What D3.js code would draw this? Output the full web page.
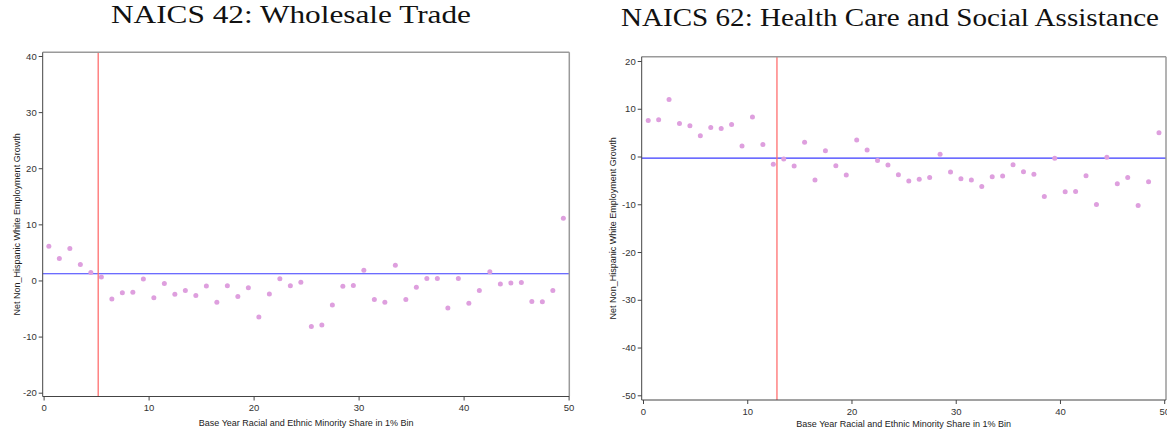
<!DOCTYPE html>
<html>
<head>
<meta charset="utf-8">
<script src="https://cdn.jsdelivr.net/npm/d3@7"></script>
<style>
  html, body { margin: 0; padding: 0; background: #fff; }
  svg { display: block; }
  .tick text { font-family: "Liberation Sans", Arial, sans-serif; font-size: 9.5px; fill: #333; }
</style>
</head>
<body>
<svg id="chart" width="1167" height="433"></svg>
<script>
// Bin midpoints: base-year minority share, 1% bins
const bins = [
  0.5, 1.5, 2.5, 3.5, 4.5, 5.5, 6.5, 7.5, 8.5, 9.5,
  10.5, 11.5, 12.5, 13.5, 14.5, 15.5, 16.5, 17.5, 18.5, 19.5,
  20.5, 21.5, 22.5, 23.5, 24.5, 25.5, 26.5, 27.5, 28.5, 29.5,
  30.5, 31.5, 32.5, 33.5, 34.5, 35.5, 36.5, 37.5, 38.5, 39.5,
  40.5, 41.5, 42.5, 43.5, 44.5, 45.5, 46.5, 47.5, 48.5, 49.5
];

// NAICS 42: Wholesale Trade
const wholesaleGrowth = [
  6.1, 3.9, 5.7, 2.85, 1.4, 0.6, -3.3, -2.2, -2.1, 0.25,
  -3.1, -0.55, -2.45, -1.8, -2.7, -1.0, -3.9, -0.95, -2.85, -1.3,
  -6.5, -2.4, 0.3, -0.95, -0.3, -8.2, -7.95, -4.35, -1.05, -0.9,
  1.8, -3.4, -3.9, 2.7, -3.4, -1.2, 0.35, 0.35, -4.9, 0.35,
  -4.05, -1.8, 1.55, -0.65, -0.45, -0.35, -3.75, -3.8, -1.8, 11.1
];
const wholesaleCutoff = 5.2;
const wholesaleMean = 1.2;

// NAICS 62: Health Care and Social Assistance
const healthGrowth = [
  7.55, 7.7, 11.95, 6.9, 6.45, 4.35, 6.05, 5.85, 6.7, 2.2,
  8.25, 2.5, -1.6, -0.5, -2.0, 3.0, -4.9, 1.2, -1.95, -3.85,
  3.45, 1.35, -0.85, -1.8, -3.8, -5.15, -4.75, -4.4, 0.5, -3.25,
  -4.65, -4.9, -6.3, -4.25, -4.1, -1.75, -3.2, -3.7, -8.35, -0.35,
  -7.4, -7.3, -4.05, -10.05, -0.15, -5.7, -4.4, -10.25, -5.3, 4.95
];
const healthCutoff = 12.85;
const healthMean = -0.35;

const xTicks = [0, 10, 20, 30, 40, 50];
const wholesaleYTicks = [-20, -10, 0, 10, 20, 30, 40];
const healthYTicks = [-50, -40, -30, -20, -10, 0, 10, 20];

const titles = ["NAICS 42: Wholesale Trade", "NAICS 62: Health Care and Social Assistance"];
const xTitle = "Base Year Racial and Ethnic Minority Share in 1% Bin";
const yTitle = "Net Non_Hispanic White Employment Growth";

const svg = d3.select("#chart");

function drawPanel(p) {
  const g = svg.append("g");
  const x = d3.scaleLinear().domain([0, 50]).range([p.x0, p.x1]);
  const y = d3.scaleLinear().domain(p.yDomain).range([p.yBottomTick, p.yTopTick]);

  // panel title
  g.append("text")
    .attr("x", p.titleX)
    .attr("y", p.titleY)
    .attr("font-family", "'Liberation Serif', 'Times New Roman', serif")
    .attr("font-size", 26)
    .attr("fill", "#111")
    .attr("textLength", p.titleW)
    .attr("lengthAdjust", "spacingAndGlyphs")
    .text(p.title);

  // reference lines: mean growth (horizontal) and tipping point (vertical)
  g.append("line")
    .attr("x1", p.frameL).attr("x2", p.frameR)
    .attr("y1", y(p.mean)).attr("y2", y(p.mean))
    .attr("stroke", "#3b3bff").attr("stroke-width", 1.2);
  g.append("line")
    .attr("x1", x(p.cutoff)).attr("x2", x(p.cutoff))
    .attr("y1", p.frameT).attr("y2", p.frameB)
    .attr("stroke", "#ff6f6f").attr("stroke-width", 1.3);

  // binned means
  g.append("g").selectAll("circle")
    .data(bins.map((b, i) => [b, p.values[i]]))
    .join("circle")
    .attr("cx", d => x(d[0]))
    .attr("cy", d => y(d[1]))
    .attr("r", 2.5)
    .attr("fill", "#de9fde");

  // frame: top and right in light gray
  g.append("line")
    .attr("x1", p.frameL).attr("x2", p.frameR)
    .attr("y1", p.frameT).attr("y2", p.frameT)
    .attr("stroke", "#9a9a9a").attr("stroke-width", 1.5);
  g.append("line")
    .attr("x1", p.frameR).attr("x2", p.frameR)
    .attr("y1", p.frameT).attr("y2", p.frameB)
    .attr("stroke", "#9a9a9a").attr("stroke-width", 1.5);

  // axes
  const xAxis = g.append("g")
    .attr("transform", `translate(0,${p.frameB})`)
    .call(d3.axisBottom(x).tickValues(xTicks).tickSize(4).tickPadding(4).tickFormat(d => String(d)));
  xAxis.select(".domain").attr("d", `M${p.frameL},0H${p.frameR}`).attr("stroke", "#444");
  xAxis.selectAll(".tick line").attr("stroke", "#444");

  const yAxis = g.append("g")
    .attr("transform", `translate(${p.frameL},0)`)
    .call(d3.axisLeft(y).tickValues(p.yTicks).tickSize(4).tickPadding(2).tickFormat(d => String(d)));
  yAxis.select(".domain").attr("d", `M0,${p.frameT}V${p.frameB}`).attr("stroke", "#444");
  yAxis.selectAll(".tick line").attr("stroke", "#444");

  // axis titles
  g.append("text")
    .attr("x", (p.x0 + p.x1) / 2)
    .attr("y", p.xTitleY)
    .attr("text-anchor", "middle")
    .attr("font-family", "'Liberation Sans', Arial, sans-serif")
    .attr("font-size", 9)
    .attr("fill", "#222")
    .text(xTitle);
  g.append("text")
    .attr("transform", `translate(${p.yTitleX},${(p.frameT + p.frameB) / 2}) rotate(-90)`)
    .attr("text-anchor", "middle")
    .attr("font-family", "'Liberation Sans', Arial, sans-serif")
    .attr("font-size", 9)
    .attr("fill", "#222")
    .text(yTitle);
}

drawPanel({
  title: titles[0], titleX: 111, titleY: 23, titleW: 360,
  values: wholesaleGrowth, cutoff: wholesaleCutoff, mean: wholesaleMean,
  yDomain: [-20, 40], yTicks: wholesaleYTicks,
  x0: 43.6, x1: 568.6, yBottomTick: 392.7, yTopTick: 56,
  frameL: 42.7, frameR: 569.3, frameT: 52.3, frameB: 396.5,
  xTitleY: 426, yTitleX: 20
});

drawPanel({
  title: titles[1], titleX: 621, titleY: 26, titleW: 538,
  values: healthGrowth, cutoff: healthCutoff, mean: healthMean,
  yDomain: [-50, 20], yTicks: healthYTicks,
  x0: 643, x1: 1164.2, yBottomTick: 395.3, yTopTick: 61,
  frameL: 641.7, frameR: 1166, frameT: 56.7, frameB: 400,
  xTitleY: 427, yTitleX: 616
});
</script>
</body>
</html>
